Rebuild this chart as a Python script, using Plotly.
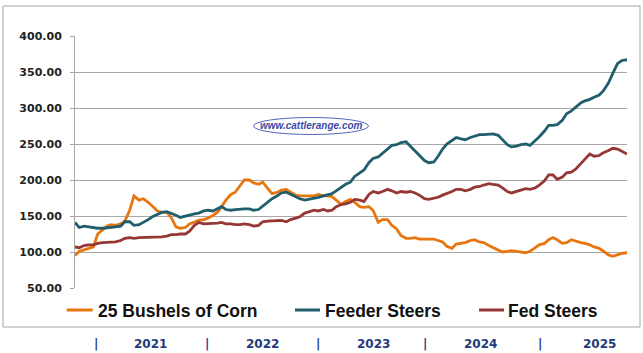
import plotly.graph_objects as go
import pandas as pd

# Semi-monthly sampling dates (1st and 15th), Nov 2020 - Nov 2025
dates = pd.date_range("2020-11-01", "2025-11-01", freq="SMS")

corn = [95, 101, 103, 105, 107, 125, 131, 136, 138, 137,
        139, 143, 158, 178, 172, 174, 169, 163, 157, 155,
        155, 148, 135, 133, 134, 139, 142, 144, 145, 147,
        151, 155, 163, 172, 180, 183, 192, 200, 200, 196,
        194, 197, 188, 181, 183, 186, 187, 183, 179, 178,
        178, 177, 178, 180, 178, 178, 177, 172, 166, 170,
        173, 169, 163, 162, 163, 158, 141, 145, 145, 137,
        132, 123, 119, 119, 120, 118, 118, 118, 118, 116,
        114, 108, 105, 111, 112, 113, 116, 117, 114, 113,
        109, 106, 103, 100, 101, 102, 101, 100, 99, 101,
        106, 110, 112, 117, 120, 117, 112, 113, 117, 115,
        113, 112, 110, 107, 105, 101, 96, 94, 96, 98, 99]

feeder = [141, 134, 136, 135, 134, 133, 133, 134, 135, 135,
          136, 142, 142, 137, 138, 141, 145, 149, 152, 155,
          156, 154, 151, 148, 150, 151, 153, 154, 157, 158,
          157, 160, 163, 159, 158, 159, 160, 160, 160, 158,
          159, 164, 169, 174, 178, 182, 183, 180, 176, 174,
          172, 173, 174, 176, 178, 179, 181, 185, 190, 194,
          197, 205, 210, 214, 224, 230, 232, 237, 244, 248,
          249, 252, 253, 247, 240, 233, 227, 224, 225, 233,
          243, 250, 255, 259, 257, 256, 259, 261, 263, 263,
          264, 264, 262, 256, 249, 246, 247, 249, 250, 248,
          254, 260, 268, 276, 276, 277, 283, 292, 296, 301,
          307, 310, 312, 315, 318, 324, 335, 348, 362, 366, 367]

fed = [107, 106, 109, 110, 110, 112, 113, 113, 114, 114,
       116, 119, 120, 119, 120, 120, 121, 121, 120, 121,
       122, 124, 124, 125, 125, 129, 137, 141, 139, 139,
       140, 140, 141, 139, 139, 138, 138, 139, 138, 136,
       137, 142, 143, 143, 144, 144, 142, 145, 147, 149,
       154, 156, 158, 157, 159, 157, 158, 163, 166, 167,
       169, 173, 172, 170, 180, 184, 182, 184, 187, 185,
       182, 184, 183, 184, 182, 179, 174, 173, 175, 176,
       179, 181, 184, 187, 187, 185, 187, 190, 191, 193,
       195, 194, 193, 189, 184, 182, 184, 186, 188, 187,
       189, 193, 199, 207, 207, 201, 204, 210, 211, 215,
       222, 229, 236, 233, 234, 238, 241, 244, 243, 240, 236]

series_names = ["25 Bushels of Corn", "Feeder Steers", "Fed Steers"]
series_colors = ["#E8760F", "#215E6C", "#953735"]
years = ["2021", "2022", "2023", "2024", "2025"]
y_ticks = [50, 100, 150, 200, 250, 300, 350, 400]

fig = go.Figure()
for name, vals, col in zip(series_names, [corn, feeder, fed], series_colors):
    fig.add_trace(go.Scatter(x=dates, y=vals, mode="lines", name=name,
                             line=dict(color=col, width=2.8), showlegend=False))

W, H = 643, 353
L, R, T, B = 75, 16, 36, 65
pw, ph = W - L - R, H - T - B


def px(x):
    return (x - L) / pw


def py(y):
    return (H - B - y) / ph


shapes = []
annotations = []

# outer chart border
shapes.append(dict(type="rect", xref="paper", yref="paper",
                   x0=px(3), x1=px(640), y0=py(327), y1=py(6),
                   line=dict(color="#A6A6A6", width=1), layer="below"))

# legend (manual)
leg_lines = [(66.7, 92.7), (295, 320), (479, 504)]
leg_text_x = [96, 322.5, 506]
for (a, b), tx, name, col in zip(leg_lines, leg_text_x, series_names, series_colors):
    shapes.append(dict(type="line", xref="paper", yref="paper",
                       x0=px(a), x1=px(b), y0=py(310), y1=py(310),
                       line=dict(color=col, width=3)))
    annotations.append(dict(xref="paper", yref="paper", x=px(tx), y=py(311),
                            text="<b>" + name + "</b>", showarrow=False,
                            xanchor="left", yanchor="middle",
                            font=dict(family="Liberation Sans", size=17.5, color="#111111")))

# watermark
shapes.append(dict(type="circle", xref="paper", yref="paper",
                   x0=px(253.5), x1=px(368.5), y0=py(134.5), y1=py(117.5),
                   line=dict(color="#5566C0", width=1)))
annotations.append(dict(xref="paper", yref="paper", x=px(311), y=py(126),
                        text="<b><i>www.cattlerange.com</i></b>", showarrow=False,
                        xanchor="center", yanchor="middle",
                        font=dict(family="Liberation Sans", size=10, color="#3B4BA5")))

# year labels under the chart
sep_x = [96, 207, 318, 425, 540]
year_x = [150, 262, 373, 480, 599]
for sx in sep_x:
    annotations.append(dict(xref="paper", yref="paper", x=px(sx), y=py(344),
                            text="<b>|</b>", showarrow=False, xanchor="center", yanchor="middle",
                            font=dict(family="DejaVu Sans", size=12, color="#1F3F8F")))
for yx, yr in zip(year_x, years):
    annotations.append(dict(xref="paper", yref="paper", x=px(yx), y=py(344),
                            text="<b>" + yr + "</b>", showarrow=False, xanchor="center",
                            yanchor="middle",
                            font=dict(family="DejaVu Sans", size=12, color="#1F3A7A")))

fig.update_layout(
    width=W, height=H,
    margin=dict(l=L, r=R, t=T, b=B),
    paper_bgcolor="white", plot_bgcolor="white",
    shapes=shapes, annotations=annotations,
    xaxis=dict(range=[dates[0], dates[-1]], showgrid=False, showticklabels=False,
               ticks="", zeroline=False, showline=False),
    yaxis=dict(range=[50, 400], tickvals=y_ticks,
               ticktext=[f"{v:.2f}" for v in y_ticks],
               showgrid=True, gridcolor="#A8A8A8", gridwidth=1,
               showline=True, linecolor="#A8A8A8", linewidth=1,
               ticks="outside", ticklen=4, tickcolor="#A8A8A8",
               ticklabelstandoff=6, zeroline=False,
               tickfont=dict(family="DejaVu Sans", size=11, color="#222222", weight="bold")),
    showlegend=False,
)

fig.write_html("out.html")
